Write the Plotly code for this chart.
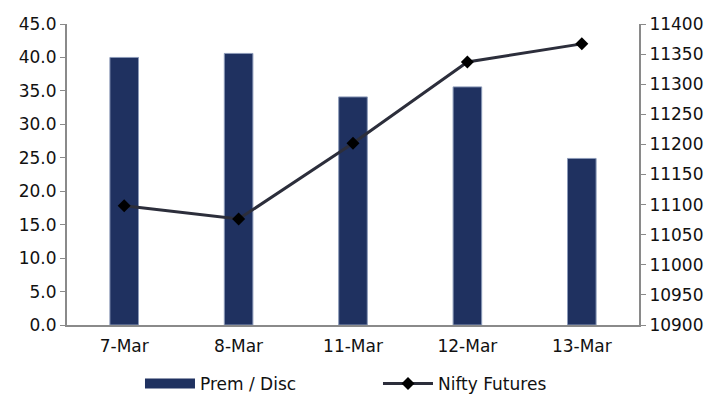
import plotly.graph_objects as go

categories = ["7-Mar", "8-Mar", "11-Mar", "12-Mar", "13-Mar"]
prem_disc = [40.0, 40.6, 34.1, 35.6, 24.9]
nifty_futures = [11098, 11076, 11202, 11337, 11367]
left_ticks = [0, 5, 10, 15, 20, 25, 30, 35, 40, 45]
right_ticks = [10900, 10950, 11000, 11050, 11100, 11150, 11200, 11250, 11300, 11350, 11400]

BAR = "#1F3160"
LINE = "#2C2E3B"
FONT = "DejaVu Sans"
FS = 17

fig = go.Figure()
fig.add_trace(go.Bar(
    x=categories, y=prem_disc, name="Prem / Disc",
    marker=dict(color=BAR, line=dict(color="#8C9AB8", width=1)),
    showlegend=False, yaxis="y",
))
# legend-only entry to mimic the wide rectangle swatch
fig.add_trace(go.Scatter(
    x=[None], y=[None], name="Prem / Disc", mode="lines",
    line=dict(color=BAR, width=13), yaxis="y",
))
fig.add_trace(go.Scatter(
    x=categories, y=nifty_futures, name="Nifty Futures", mode="lines+markers",
    line=dict(color=LINE, width=3),
    marker=dict(symbol="diamond", size=10, color="black"),
    yaxis="y2",
))

axis_common = dict(
    showgrid=False, zeroline=False, showline=True, linecolor="#8A8A8A", linewidth=2,
    ticks="outside", ticklen=5, tickcolor="#8A8A8A", tickwidth=1,
    tickfont=dict(family=FONT, size=FS, color="#111111"),
)

fig.update_layout(
    width=715, height=394,
    margin=dict(l=67, r=76, t=24, b=69, autoexpand=False),
    paper_bgcolor="white", plot_bgcolor="white",
    bargap=0.75,
    font=dict(family=FONT, size=FS, color="#111111"),
    xaxis=dict(showgrid=False, zeroline=False, showline=True, linecolor="#8A8A8A",
               linewidth=2, ticks="", ticklabelstandoff=5,
               tickfont=dict(family=FONT, size=FS, color="#111111")),
    yaxis=dict(range=[0, 45], tickvals=left_ticks,
               ticktext=[f"{v:.1f}" for v in left_ticks], **axis_common),
    yaxis2=dict(range=[10900, 11400], tickvals=right_ticks,
                ticktext=[str(v) for v in right_ticks],
                overlaying="y", side="right", **axis_common),
    legend=dict(orientation="h", x=0.1276, xanchor="left", y=-0.196, yanchor="middle",
                font=dict(family=FONT, size=FS, color="#111111"),
                itemwidth=50, entrywidth=173, entrywidthmode="pixels",
                traceorder="normal"),
)

fig.write_html("out.html")
